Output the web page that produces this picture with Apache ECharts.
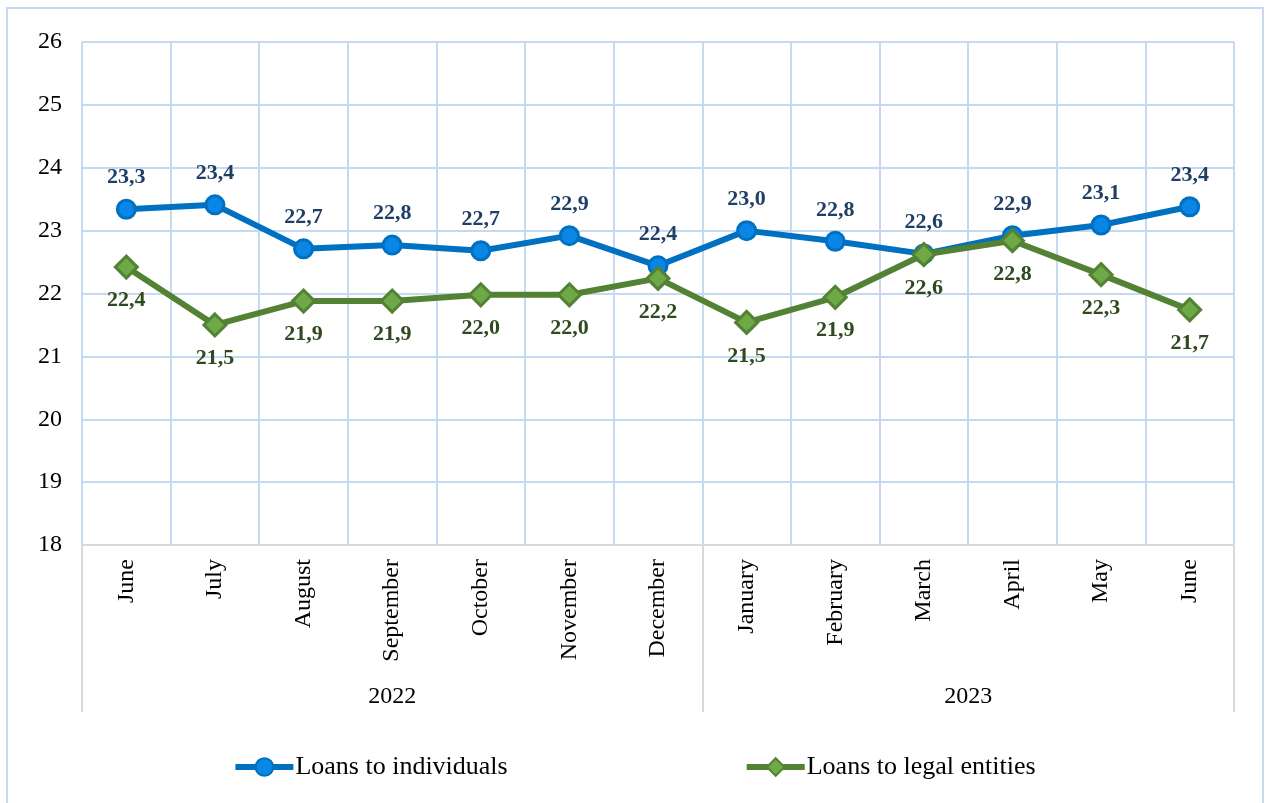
<!DOCTYPE html>
<html>
<head>
<meta charset="utf-8">
<script src="https://cdn.jsdelivr.net/npm/echarts@6/dist/echarts.min.js"></script>
<style>
  html, body { margin: 0; padding: 0; background: #fff; }
  #chart { width: 1268px; height: 803px; }
  .frame { position: absolute; left: 6px; top: 7px; width: 1258px; height: 800px; border: 2px solid #c5daf0; box-sizing: border-box; pointer-events: none; }
</style>
</head>
<body>
<div id="chart"></div>
<div class="frame"></div>
<script>
  // months on the axis, grouped by year
  const months = ['June', 'July', 'August', 'September', 'October', 'November', 'December',
    'January', 'February', 'March', 'April', 'May', 'June']
  const years = ['2022', '2023']
  const yearSpans = [7, 6]

  const individuals = [23.34, 23.41, 22.71, 22.77, 22.68, 22.92, 22.44, 23.0, 22.83, 22.63, 22.92, 23.09, 23.38]
  const legalEntities = [22.42, 21.5, 21.88, 21.88, 21.98, 21.98, 22.24, 21.54, 21.94, 22.62, 22.84, 22.3, 21.74]

  const serif = 'Liberation Serif'

  // year separators and year label centers
  const yearBounds = [0]
  const yearCenters = []
  yearSpans.forEach(function (n) {
    const start = yearBounds[yearBounds.length - 1]
    yearCenters.push(start + n / 2)
    yearBounds.push(start + n)
  })

  const fmt = function (p) {
    return p.value.toFixed(1).replace('.', ',')
  }

  const chart = echarts.init(document.getElementById('chart'))
  chart.setOption({
    animation: false,
    grid: { left: 82, right: 34, top: 42, bottom: 258 },
    xAxis: [{
      type: 'category',
      data: months,
      boundaryGap: true,
      axisLine: { lineStyle: { color: '#d9d9d9', width: 2 } },
      axisTick: { show: false },
      axisLabel: { rotate: 90, margin: 14, fontSize: 24, fontFamily: serif, color: '#000' },
      splitLine: { show: true, lineStyle: { color: '#c5daf0', width: 2 } }
    }, {
      type: 'value',
      min: 0,
      max: months.length,
      position: 'bottom',
      offset: 167,
      axisLine: { show: false },
      splitLine: { show: false },
      axisTick: {
        show: true,
        inside: true,
        length: 167,
        customValues: yearBounds,
        lineStyle: { color: '#d9d9d9', width: 2 }
      },
      axisLabel: {
        inside: true,
        margin: 3,
        fontSize: 24,
        fontFamily: serif,
        color: '#000',
        customValues: yearCenters,
        formatter: function (v) {
          return years[yearCenters.indexOf(v)]
        }
      }
    }],
    yAxis: {
      type: 'value',
      min: 18,
      max: 26,
      interval: 1,
      axisLine: { show: false },
      axisTick: { show: false },
      axisLabel: { fontSize: 24, fontFamily: serif, color: '#000', margin: 20 },
      splitLine: { lineStyle: { color: '#c5daf0', width: 2 } }
    },
    legend: {
      bottom: 18,
      left: 'center',
      itemGap: 236,
      itemWidth: 58,
      itemHeight: 22,
      lineStyle: { width: 6 },
      textStyle: { fontSize: 26, fontFamily: serif, color: '#000', padding: [0, 0, 0, -3] },
      data: ['Loans to individuals', 'Loans to legal entities']
    },
    series: [{
      name: 'Loans to individuals',
      type: 'line',
      data: individuals,
      symbol: 'circle',
      symbolSize: 18,
      lineStyle: { color: '#0070c0', width: 6 },
      itemStyle: { color: '#0a86e6', borderColor: '#0070c0', borderWidth: 3 },
      label: {
        show: true,
        position: 'top',
        distance: 10,
        formatter: fmt,
        fontSize: 22,
        fontWeight: 'bold',
        fontFamily: serif,
        color: '#1f3f66'
      },
      z: 2
    }, {
      name: 'Loans to legal entities',
      type: 'line',
      data: legalEntities,
      symbol: 'diamond',
      symbolSize: 22,
      lineStyle: { color: '#548235', width: 6 },
      itemStyle: { color: '#6fa847', borderColor: '#548235', borderWidth: 3 },
      label: {
        show: true,
        position: 'bottom',
        distance: 10,
        formatter: fmt,
        fontSize: 22,
        fontWeight: 'bold',
        fontFamily: serif,
        color: '#2f4a1e'
      },
      z: 3
    }]
  })
</script>
</body>
</html>
